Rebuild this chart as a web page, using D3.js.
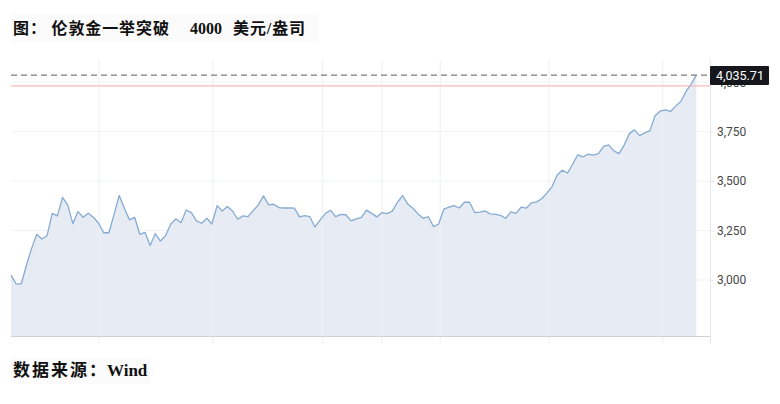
<!DOCTYPE html>
<html><head><meta charset="utf-8">
<script src="https://cdn.jsdelivr.net/npm/d3@7"></script>
<style>
html,body{margin:0;padding:0;background:#fff;}
svg{display:block;}
</style></head>
<body>
<svg id="chart" width="780" height="404"></svg>
<script>
// ---- data ----
const prices = [
3025,2980,2980,3076,3160,3231,3207,3224,3337,3324,
3418,3380,3285,3346,3317,3337,3317,3287,3239,3239,
3332,3427,3363,3304,3317,3231,3241,3174,3234,3197,
3224,3283,3310,3290,3354,3341,3299,3287,3312,3283,
3376,3349,3371,3349,3307,3324,3320,3351,3380,3425,
3380,3383,3366,3364,3364,3363,3319,3325,3320,3268,
3304,3336,3353,3320,3332,3330,3299,3309,3317,3353,
3337,3319,3341,3336,3348,3393,3427,3384,3363,3334,
3312,3320,3270,3283,3358,3368,3376,3364,3393,3393,
3341,3343,3349,3334,3332,3327,3312,3344,3337,3368,
3363,3390,3395,3411,3439,3471,3531,3555,3541,3585,
3633,3622,3636,3631,3639,3675,3683,3653,3639,3682,
3740,3759,3730,3744,3755,3830,3854,3860,3852,3879,
3902,3953,3990,4035.71
];
const yTicks = [3000, 3250, 3500, 3750, 4000];
const monthBreaks = [17.1, 39.2, 60.5, 72, 83.3, 104.4, 126.5]; // in data-index units
const lastPrice = 4035.71;
const refLevel = 3981;
const titleParts = ["图：", "伦敦金一举突破", "4000", "美元/盎司"];
const sourceParts = ["数据来源：", "Wind"];

// ---- layout ----
const svg = d3.select("#chart");
const plotL = 11, plotR = 710, plotT = 60, plotB = 336;

const x = d3.scaleLinear().domain([0, prices.length - 1]).range([11, 696.3]);
const y = d3.scaleLinear().domain([2717, 4102]).range([plotB, 62]);

// faint title/footer backgrounds
svg.append("rect").attr("x", 12).attr("y", 14).attr("width", 306).attr("height", 28).attr("fill", "#fbfbfb");
svg.append("rect").attr("x", 12).attr("y", 358).attr("width", 138).attr("height", 26).attr("fill", "#fbfbfb");

// title
const serif = "'Liberation Serif','Noto Sans CJK SC',serif";
const tx = [13, 51.5, 190, 233];
svg.selectAll("text.title").data(titleParts).join("text")
  .attr("class", "title")
  .attr("x", (d, i) => tx[i]).attr("y", 34)
  .attr("font-family", serif).attr("font-weight", "bold")
  .attr("font-size", 16).attr("letter-spacing", (d, i) => i === 2 ? 0 : 0.9)
  .attr("fill", "#111").text(d => d);

// source
const sx = [13, 107];
svg.selectAll("text.src").data(sourceParts).join("text")
  .attr("class", "src")
  .attr("x", (d, i) => sx[i]).attr("y", 376)
  .attr("font-family", serif).attr("font-weight", "bold")
  .attr("font-size", 17).attr("letter-spacing", (d, i) => i === 0 ? 2 : 0)
  .attr("fill", "#111").text(d => d);

// horizontal grid
svg.append("g").selectAll("line").data(yTicks).join("line")
  .attr("x1", plotL).attr("x2", plotR)
  .attr("y1", d => y(d)).attr("y2", d => y(d))
  .attr("stroke", "#f1f3f7").attr("stroke-width", 1);

// area + line
const area = d3.area().x((d, i) => x(i)).y0(plotB).y1(d => y(d));
const line = d3.line().x((d, i) => x(i)).y(d => y(d));
svg.append("path").datum(prices).attr("d", area).attr("fill", "#e7ecf4");

// vertical grid (month breaks) + small ticks below axis
svg.append("g").selectAll("line").data(monthBreaks).join("line")
  .attr("x1", d => x(d)).attr("x2", d => x(d))
  .attr("y1", plotT).attr("y2", plotB + 8)
  .attr("stroke", "#eef0f5").attr("stroke-width", 1);

svg.append("path").datum(prices).attr("d", line)
  .attr("fill", "none").attr("stroke", "#85abd3").attr("stroke-width", 1.3)
  .attr("stroke-linejoin", "round");

// bottom axis line
svg.append("line").attr("x1", plotL).attr("x2", plotR)
  .attr("y1", plotB + 0.5).attr("y2", plotB + 0.5)
  .attr("stroke", "#cdd1d9").attr("stroke-width", 1.2);

// right axis (4,000 label sits under the last-price tag, as in the reference)
const yAxis = d3.axisRight(y).tickValues(yTicks).tickFormat(d3.format(",")).tickSize(4).tickPadding(3);
const ag = svg.append("g").attr("transform", `translate(${plotR},0)`).call(yAxis);
ag.select(".domain").remove();
ag.selectAll(".tick line").attr("stroke", "#e3e6ec");
ag.selectAll(".tick text").attr("font-family", "Roboto,'Liberation Sans',sans-serif")
  .attr("font-size", 12).attr("fill", "#474747");
svg.append("line").attr("x1", plotR + 0.5).attr("x2", plotR + 0.5)
  .attr("y1", plotT).attr("y2", plotB + 8)
  .attr("stroke", "#e3e6ec").attr("stroke-width", 1);

// reference (red) line
svg.append("line").attr("x1", plotL).attr("x2", plotR)
  .attr("y1", y(refLevel)).attr("y2", y(refLevel))
  .attr("stroke", "#f3a9a9").attr("stroke-width", 1);

// last price dashed line
svg.append("line").attr("x1", plotL).attr("x2", plotR)
  .attr("y1", y(lastPrice)).attr("y2", y(lastPrice))
  .attr("stroke", "#7a7a7a").attr("stroke-width", 1.4)
  .attr("stroke-dasharray", "6,4");

// last price label
const ly = y(lastPrice);
svg.append("rect").attr("x", plotR).attr("y", ly - 9).attr("width", 59).attr("height", 19)
  .attr("fill", "#15171c").attr("rx", 1);
svg.append("text").attr("x", plotR + 6).attr("y", ly + 5)
  .attr("font-family", "Roboto,'Liberation Sans',sans-serif")
  .attr("font-size", 12.5).attr("fill", "#fff").text(d3.format(",.2f")(lastPrice));
</script>
</body></html>
